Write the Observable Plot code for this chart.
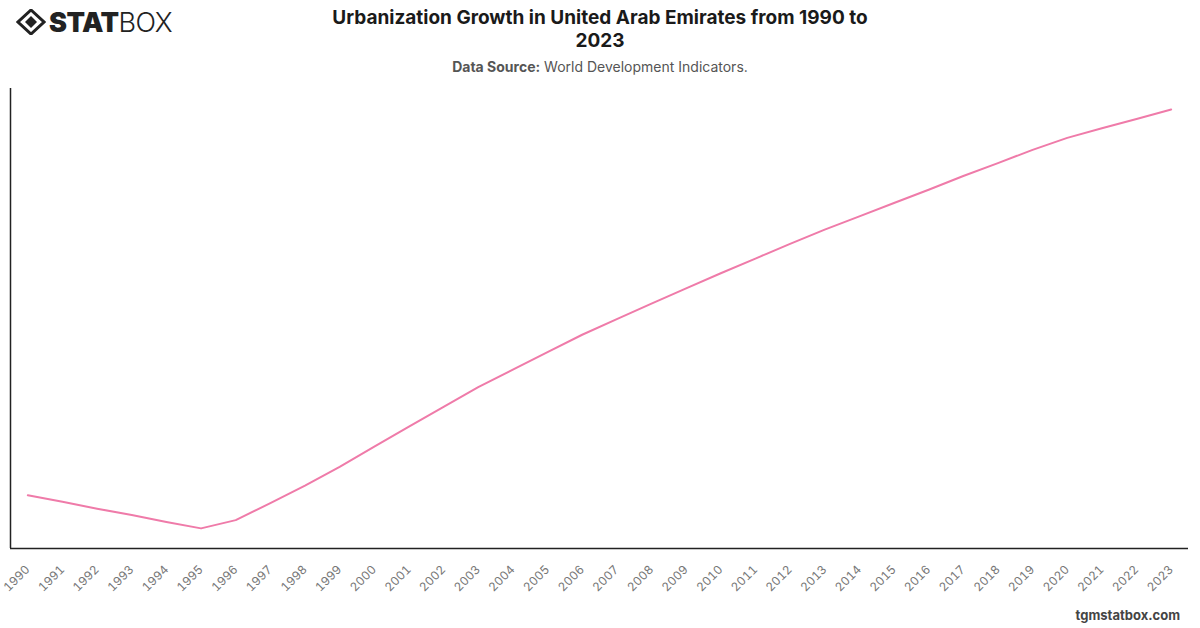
<!DOCTYPE html>
<html>
<head>
<meta charset="utf-8">
<script src="https://cdn.jsdelivr.net/npm/d3@7"></script>
<script src="https://cdn.jsdelivr.net/npm/@observablehq/plot@0.6"></script>
<style>
  html, body { margin: 0; padding: 0; background: #fff; }
  body { width: 1200px; height: 628px; position: relative; overflow: hidden; font-family: Inter, "Liberation Sans", sans-serif; }
  #logo { position: absolute; left: 16px; top: 8px; display: flex; align-items: center; height: 28px; }
  #logo .word { font-size: 27px; letter-spacing: -0.5px; color: #222; line-height: 1; margin-left: 3px; }
  #logo .word b { font-weight: 900; }
  #logo .word span { font-weight: 300; }
  #title { position: absolute; left: 322px; width: 556px; top: 6px; text-align: center; font-size: 19px; font-weight: 700; color: #1a1a1a; line-height: 23px; }
  #subtitle { position: absolute; left: 0; width: 1200px; top: 58px; text-align: center; font-size: 14px; color: #555; }
  #subtitle b { font-weight: 700; }
  #chart { position: absolute; left: 0; top: 80px; }
  #footer { position: absolute; right: 20px; top: 607px; font-size: 13px; font-weight: 700; color: #444; }
</style>
</head>
<body>
<div id="logo">
  <svg width="30" height="26" viewBox="0 0 30 26">
    <path d="M15 1 L28 13 L15 25 L2 13 Z" fill="none" stroke="#222" stroke-width="3"/>
    <path d="M15 7 L21 13 L15 19 L9 13 Z" fill="#222"/>
  </svg>
  <div class="word"><b>STAT</b><span>BOX</span></div>
</div>
<div id="title">Urbanization Growth in United Arab Emirates from 1990 to 2023</div>
<div id="subtitle"><b>Data Source:</b> World Development Indicators.</div>
<div id="chart"></div>
<div id="footer">tgmstatbox.com</div>
<script>
// Urban population (% of total), United Arab Emirates
const years = d3.range(1990, 2024);
const urbanShare = [
  79.09, 78.95, 78.80, 78.66, 78.51, 78.37, 78.55, 78.92, 79.30, 79.71,
  80.15, 80.59, 81.02, 81.45, 81.83, 82.21, 82.59, 82.93, 83.27, 83.60,
  83.93, 84.25, 84.57, 84.88, 85.17, 85.46, 85.75, 86.05, 86.33, 86.62,
  86.88, 87.09, 87.29, 87.50
];

const data = years.map((year, i) => ({year, value: urbanShare[i]}));

const [vMin, vMax] = d3.extent(urbanShare);
const span = vMax - vMin;
const yDomain = [vMin - span * 0.048, vMax + span * 0.05];
const xDomain = [years[0] - 0.5, years[years.length - 1] + 0.5];

const chart = Plot.plot({
  width: 1200,
  height: 520,
  marginTop: 8,
  marginBottom: 52,
  marginLeft: 10,
  marginRight: 12,
  style: {fontFamily: "Inter, 'Liberation Sans', sans-serif", background: "transparent"},
  x: {domain: xDomain},
  y: {domain: yDomain},
  marks: [
    Plot.axisX({
      ticks: years,
      tickFormat: d => String(d),
      tickSize: 0,
      tickPadding: 19,
      tickRotate: -45,
      fontSize: 12,
      fill: "#777",
      label: null
    }),
    Plot.axisY({ticks: [], label: null}),
    Plot.ruleX([xDomain[0]], {stroke: "#222", strokeWidth: 1.5}),
    Plot.ruleY([yDomain[0]], {stroke: "#222", strokeWidth: 1.5}),
    Plot.line(data, {x: "year", y: "value", stroke: "#ef7ba9", strokeWidth: 2})
  ]
});
document.getElementById("chart").appendChild(chart);
</script>
</body>
</html>
